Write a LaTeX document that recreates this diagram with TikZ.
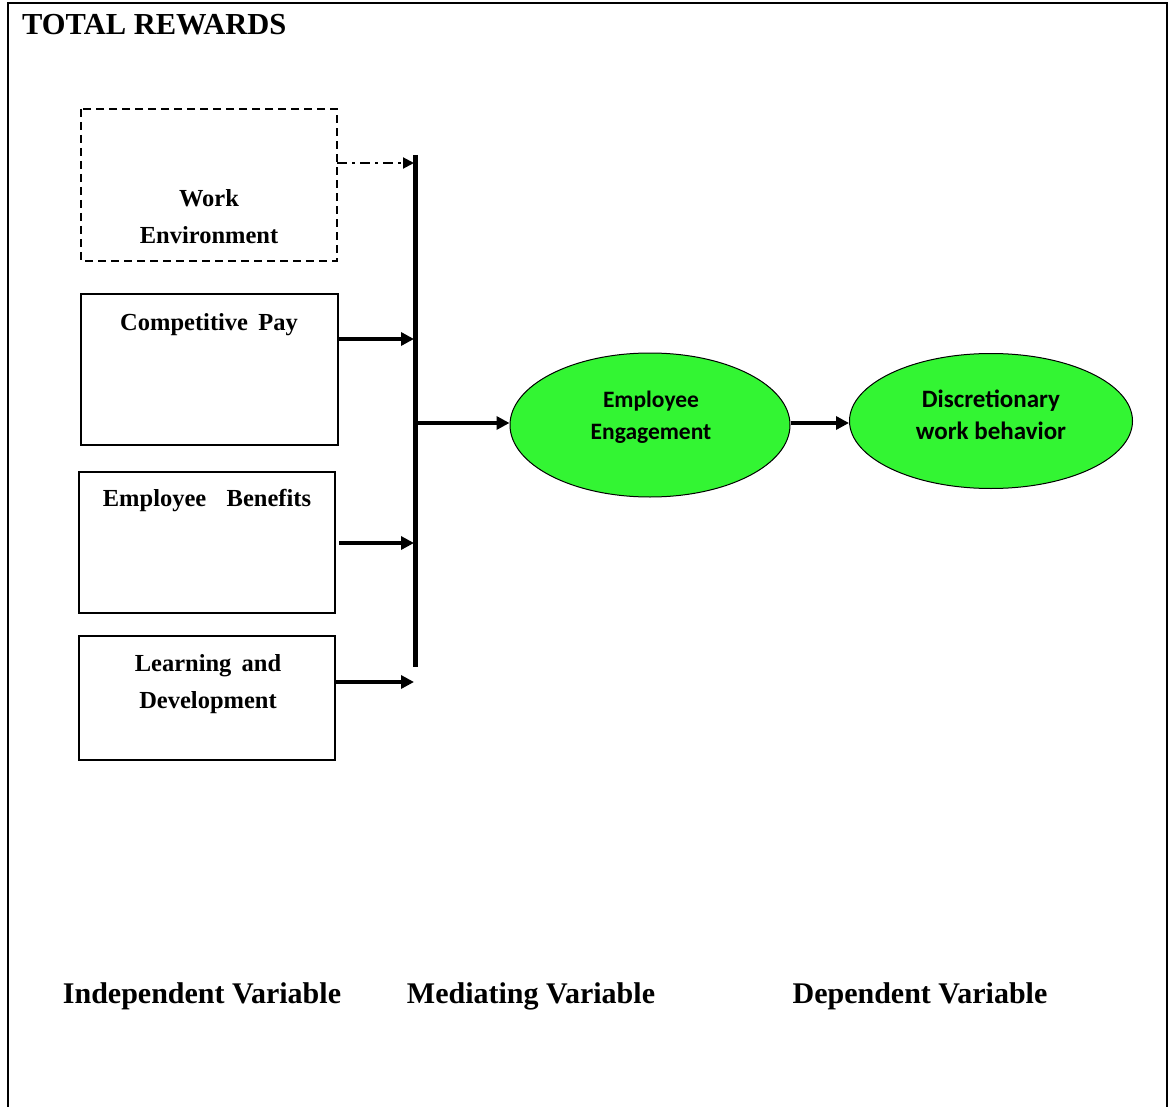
\documentclass[tikz,border=0pt]{standalone}
\usepackage{fontspec}
\setmainfont{Liberation Serif}
\newfontfamily\calibri{Carlito}
\usetikzlibrary{arrows.meta,shapes.geometric}
\definecolor{egreen}{RGB}{51,245,51}
\begin{document}
\begin{tikzpicture}[x=1pt,y=-1pt,
  boxtext/.style={font=\fontsize{24.5}{28}\selectfont\bfseries,align=center,inner sep=0pt},
  ell/.style={ellipse,draw,line width=1pt,fill=egreen,inner sep=0pt},
  elltext/.style={font=\calibri\fontsize{#1}{32}\selectfont\bfseries,align=center,inner sep=0pt},
  arr/.style={line width=3.5pt,-{Triangle[length=13pt,width=13pt]}},
  lab/.style={font=\fontsize{30}{34}\selectfont\bfseries,inner sep=0pt}]
\useasboundingbox (0,0) rectangle (1170,1107);
% frame
\draw[line width=2pt] (8,1107) -- (8,3) -- (1167,3) -- (1167,1107);
\node[font=\fontsize{30.5}{34}\selectfont\bfseries,anchor=west,inner sep=0pt] (title) at (22,25) {TOTAL REWARDS};
% boxes
\draw[line width=2pt,dash pattern=on 8pt off 5pt] (81,109) rectangle (337,261);
\coordinate (weNE) at (337,163);
\node[boxtext] (we) at (209,217) {Work\\[9pt]Environment};
\node[draw,line width=2.5pt,minimum width=257pt,minimum height=151pt,inner sep=0pt] (cp) at (209.5,369.5) {};
\node[boxtext] (cpt) at (209,325) {Competitive\, Pay};
\node[draw,line width=2.5pt,minimum width=256pt,minimum height=141pt,inner sep=0pt] (eb) at (207,542.5) {};
\node[boxtext] (ebt) at (207,501) {Employee\, \, Benefits};
\node[draw,line width=2.5pt,minimum width=256pt,minimum height=124pt,inner sep=0pt] (ld) at (207,698) {};
\node[boxtext] (ldt) at (208,684) {Learning\, and\\[9pt]Development};
% bar
\coordinate (barTop) at (415,155);
\coordinate (barBot) at (415,667);
\draw[line width=5pt] (barTop) -- (barBot);
\coordinate (b1) at (414,163);
\coordinate (b2) at (414,339);
\coordinate (b3) at (414,543);
\coordinate (b4) at (414,682);
\coordinate (bm) at (415,423);
% arrows from boxes
\draw[line width=2pt,dash pattern=on 10pt off 5pt on 3pt off 5pt,-{Triangle[length=11pt,width=11pt]}] (weNE) -- (b1);
\draw[arr] (cp.east |- b2) -- (b2);
\draw[arr] (eb.east |- b3) ++(3,0) -- (b3);
\draw[arr] (ld.east |- b4) -- (b4);
% ellipses
\node[ell,minimum width=280pt,minimum height=144pt] (ee) at (650,425) {};
\node[elltext=23.5] (eet) at (651,417) {Employee\\Engagement};
\node[ell,minimum width=283pt,minimum height=135pt] (dw) at (991,421) {};
\node[elltext=25] (dwt) at (991,415) {Discretionary\\work behavior};
\draw[arr] (bm) -- (ee.west |- bm);
\draw[arr] (ee.east |- bm) -- (dw.west |- bm);
% bottom labels
\node[lab] (iv) at (202,996) {Independent Variable};
\node[lab] (mv) at (531,996) {Mediating Variable};
\node[lab] (dv) at (920,996) {Dependent Variable};
\end{tikzpicture}
\end{document}
